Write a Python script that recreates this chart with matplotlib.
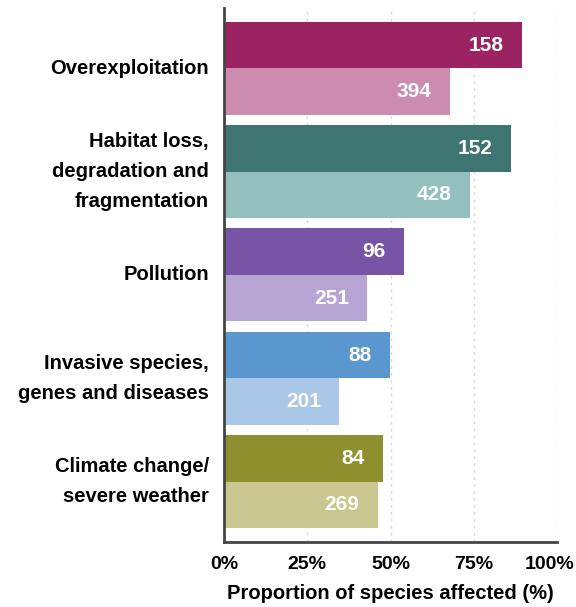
import numpy as np
import matplotlib.pyplot as plt
import matplotlib.transforms as mtransforms

plt.rcParams['font.family'] = ['Liberation Sans', 'DejaVu Sans']
plt.rcParams['font.weight'] = 'bold'

cats = ['Overexploitation', 'Habitat loss,\ndegradation and\nfragmentation', 'Pollution',
        'Invasive species,\ngenes and diseases', 'Climate change/\nsevere weather']
dark_pct = [89.5, 86.2, 54.1, 49.8, 47.7]
light_pct = [67.9, 73.9, 43.0, 34.6, 46.2]
dark_n = [158, 152, 96, 88, 84]
light_n = [394, 428, 251, 201, 269]
dark_col = ['#9c2361', '#3e7471', '#7754a6', '#5b97cf', '#8f8f2e']
light_col = ['#cc8cb0', '#94bfbf', '#b6a4d3', '#a9c7e7', '#c9c690']
ticks = [0, 25, 50, 75, 100]

fig = plt.figure(figsize=(5.76, 6.07), dpi=100)
ax = fig.add_axes([0.389, 0.107, 0.578, 0.880])

y = np.arange(len(cats))
h = 0.45
ax.barh(y - h / 2, dark_pct, height=h, color=dark_col, zorder=2)
ax.barh(y + h / 2, light_pct, height=h, color=light_col, zorder=2)

for i in range(len(cats)):
    ax.text(dark_pct[i] - 5.5, y[i] - h / 2, str(dark_n[i]), color='white',
            ha='right', va='center', fontsize=15, zorder=3)
    ax.text(light_pct[i] - 5.5, y[i] + h / 2, str(light_n[i]), color='white',
            ha='right', va='center', fontsize=15, zorder=3)

ax.set_xlim(0, 100)
ax.set_ylim(4.585, -0.585)
ax.set_yticks(y)
ax.set_yticklabels(cats, fontsize=14.5, linespacing=1.75)
for lab in ax.get_yticklabels():
    lab.set_va('center')
ax.set_xticks(ticks)
ax.set_xticklabels([f'{t}%' for t in ticks], fontsize=14)
ax.tick_params(length=0, pad=10)
ax.tick_params(axis='y', pad=11)
ax.set_xlabel('Proportion of species affected (%)', fontsize=14.5,
              fontweight='bold', labelpad=8)

# nudge the last tick label left so it stays inside the figure
lab = ax.get_xticklabels()[-1]
lab.set_transform(lab.get_transform() + mtransforms.ScaledTranslation(-7 / 100, 0, fig.dpi_scale_trans))

for t in ticks[1:]:
    ax.axvline(t, color='#d8d8d8', lw=1, ls=(0, (2, 3)), zorder=1)
for s in ['top', 'right']:
    ax.spines[s].set_visible(False)
for s in ['left', 'bottom']:
    ax.spines[s].set_color('#444444')
    ax.spines[s].set_linewidth(2)

fig.savefig('out.png', dpi=100)
